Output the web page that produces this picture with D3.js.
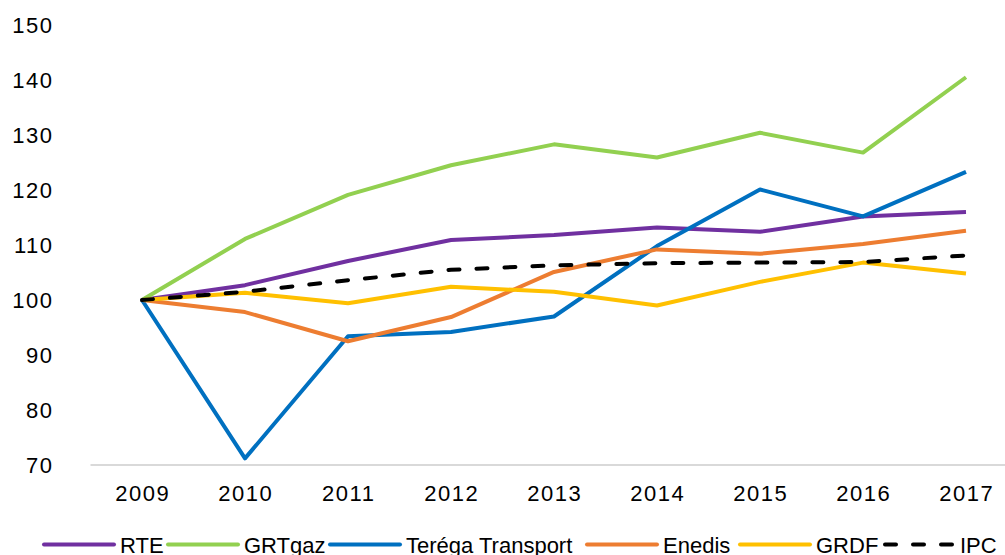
<!DOCTYPE html>
<html>
<head>
<meta charset="utf-8">
<script src="https://cdn.jsdelivr.net/npm/d3@7"></script>
<style>
  body { margin: 0; background: #fff; }
  svg { display: block; font-family: "Liberation Sans", Arial, sans-serif; }
</style>
</head>
<body>
<div id="chart"></div>
<script>
const years = ['2009', '2010', '2011', '2012', '2013', '2014', '2015', '2016', '2017']
const yTicks = [70, 80, 90, 100, 110, 120, 130, 140, 150]

const rte = [100, 102.7, 107.1, 110.9, 111.8, 113.2, 112.4, 115.2, 116.0]
const grtgaz = [100, 111.1, 119.1, 124.5, 128.3, 125.9, 130.4, 126.8, 140.5]
const terega = [100, 71.2, 93.4, 94.2, 97.0, 109.8, 120.1, 115.2, 123.3]
const enedis = [100, 97.8, 92.5, 96.9, 105.1, 109.2, 108.4, 110.2, 112.6]
const grdf = [100, 101.3, 99.4, 102.4, 101.5, 99.0, 103.3, 106.8, 104.8]
const ipc = [100, 101.5, 103.6, 105.5, 106.3, 106.7, 106.8, 106.9, 108.1]

const seriesNames = ['RTE', 'GRTgaz', 'Teréga Transport', 'Enedis', 'GRDF', 'IPC']
const seriesValues = [rte, grtgaz, terega, enedis, grdf, ipc]
const seriesColors = ['#7030A0', '#92D050', '#0070C0', '#ED7D31', '#FFC000', '#000000']

const width = 1005
const height = 555

const svg = d3.select('#chart')
  .append('svg')
  .attr('width', width)
  .attr('height', height)

const x = d3.scalePoint().domain(years).range([90.5, 1017.5]).padding(0.5)
const y = d3.scaleLinear().domain([70, 150]).range([465, 25])

// axis baseline
svg.append('line')
  .attr('x1', 90.5)
  .attr('x2', 1017.5)
  .attr('y1', y(70))
  .attr('y2', y(70))
  .attr('stroke', '#D9D9D9')
  .attr('stroke-width', 2)

// y labels
svg.append('g')
  .selectAll('text')
  .data(yTicks)
  .enter()
  .append('text')
  .attr('x', 53.5)
  .attr('y', d => y(d))
  .attr('dy', '0.36em')
  .attr('text-anchor', 'end')
  .attr('font-size', 22)
  .attr('letter-spacing', 1.5)
  .attr('fill', '#000')
  .text(d => d)

// x labels
svg.append('g')
  .selectAll('text')
  .data(years)
  .enter()
  .append('text')
  .attr('x', d => x(d) + 0.75)
  .attr('y', 500.5)
  .attr('text-anchor', 'middle')
  .attr('font-size', 22)
  .attr('letter-spacing', 1.5)
  .attr('fill', '#000')
  .text(d => d)

const line = d3.line()
  .x((d, i) => x(years[i]))
  .y(d => y(d))

const series = seriesNames.map((name, i) => ({
  name,
  values: seriesValues[i],
  color: seriesColors[i],
  dashed: name === 'IPC'
}))

svg.append('g')
  .selectAll('path')
  .data(series)
  .enter()
  .append('path')
  .attr('d', d => line(d.values))
  .attr('fill', 'none')
  .attr('stroke', d => d.color)
  .attr('stroke-width', 4)
  .attr('stroke-linejoin', 'round')
  .attr('stroke-linecap', d => (d.dashed ? 'round' : 'butt'))
  .attr('stroke-dasharray', d => (d.dashed ? '11,17' : null))

// legend
const legendX = [44, 168, 330, 587, 740, 883]
const legendY = 544.5
const legend = svg.append('g')
  .selectAll('g')
  .data(series)
  .enter()
  .append('g')
  .attr('transform', (d, i) => 'translate(' + legendX[i] + ',' + legendY + ')')

legend.append('line')
  .attr('x1', d => (d.dashed ? 2 : 0))
  .attr('x2', d => (d.dashed ? 70 : 70))
  .attr('stroke', d => d.color)
  .attr('stroke-width', 4)
  .attr('stroke-linecap', 'round')
  .attr('stroke-dasharray', d => (d.dashed ? '11,17' : null))

legend.append('text')
  .attr('x', d => (d.dashed ? 77 : 76))
  .attr('y', 8.5)
  .attr('font-size', 22)
  .attr('fill', '#000')
  .text(d => d.name)
</script>
</body>
</html>
